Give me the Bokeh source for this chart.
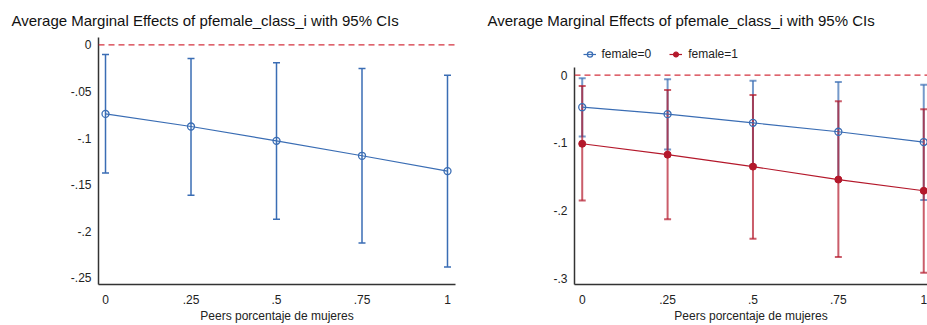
from bokeh.plotting import figure
from bokeh.models import (ColumnDataSource, Range1d, FixedTicker, Span, Whisker,
                          TeeHead, Legend, LegendItem)
from bokeh.layouts import row
from bokeh.embed import file_html
from bokeh.resources import INLINE

# ---------------- data ----------------
x_vals = [0, 0.25, 0.5, 0.75, 1]
x_tick_labels = ["0", ".25", ".5", ".75", "1"]

left_ame = [-0.0741, -0.0876, -0.1030, -0.1190, -0.1354]
left_lo = [-0.1375, -0.1614, -0.1870, -0.2126, -0.2383]
left_hi = [-0.0104, -0.0146, -0.0192, -0.0253, -0.0328]
left_y_ticks = [0, -0.05, -0.1, -0.15, -0.2, -0.25]
left_y_labels = ["0", "-.05", "-.1", "-.15", "-.2", "-.25"]

f0_ame = [-0.0475, -0.0578, -0.0706, -0.0838, -0.0990]
f0_lo = [-0.0907, -0.1100, -0.1329, -0.1565, -0.1847]
f0_hi = [-0.0049, -0.0063, -0.0083, -0.0103, -0.0142]
f1_ame = [-0.1015, -0.1176, -0.1353, -0.1544, -0.1710]
f1_lo = [-0.1853, -0.2130, -0.2420, -0.2690, -0.2920]
f1_hi = [-0.0162, -0.0220, -0.0294, -0.0387, -0.0505]
right_y_ticks = [0, -0.1, -0.2, -0.3]
right_y_labels = ["0", "-.1", "-.2", "-.3"]

title_text = "Average Marginal Effects of pfemale_class_i with 95% CIs"
x_title = "Peers porcentaje de mujeres"
legend_labels = ["female=0", "female=1"]

BLUE = "#3a6db4"
RED = "#b4182b"
ZERO_RED = "#d3323f"
FONT = "Liberation Sans"


def style(p, yt, yl):
    p.frame_align = False
    p.outline_line_color = None
    p.xgrid.visible = False
    p.ygrid.visible = False
    p.title.text_font = FONT
    p.title.text_font_size = "15px"
    p.title.text_font_style = "normal"
    p.title.text_color = "#111111"
    p.title.align = "left"
    p.title.offset = -87
    p.title.standoff = 18
    p.xaxis.ticker = FixedTicker(ticks=x_vals)
    p.xaxis.major_label_overrides = {float(v): s for v, s in zip(x_vals, x_tick_labels)}
    p.yaxis.ticker = FixedTicker(ticks=yt)
    p.yaxis.major_label_overrides = {float(v): s for v, s in zip(yt, yl)}
    for ax in (p.xaxis, p.yaxis):
        ax.axis_line_color = "#333333"
        ax.axis_line_width = 1.5
        ax.major_tick_line_color = None
        ax.minor_tick_line_color = None
        ax.major_tick_out = 0
        ax.major_tick_in = 0
        ax.minor_tick_out = 0
        ax.minor_tick_in = 0
        ax.major_label_text_font = FONT
        ax.major_label_text_font_size = "12px"
        ax.major_label_text_color = "#222222"
    p.yaxis.major_label_standoff = 7
    p.xaxis.major_label_standoff = 10
    p.xaxis.axis_label = x_title
    p.xaxis.axis_label_text_font = FONT
    p.xaxis.axis_label_text_font_size = "12px"
    p.xaxis.axis_label_text_font_style = "normal"
    p.xaxis.axis_label_text_color = "#222222"
    p.xaxis.axis_label_standoff = 2
    p.add_layout(Span(location=0, dimension="width", line_color=ZERO_RED,
                      line_width=1.2, line_dash="6 4"))


def add_ci(p, x, lo, hi, color, alpha, width):
    src = ColumnDataSource(dict(x=x, lo=lo, hi=hi))
    w = Whisker(source=src, base="x", lower="lo", upper="hi", dimension="height",
                line_color=color, line_alpha=alpha, line_width=width,
                upper_head=TeeHead(size=7, line_color=color, line_alpha=alpha, line_width=width),
                lower_head=TeeHead(size=7, line_color=color, line_alpha=alpha, line_width=width))
    p.add_layout(w)


# ---------------- left panel ----------------
p1 = figure(width=460, height=325, output_backend="svg", toolbar_location=None,
            x_range=Range1d(-0.0205, 1.0234), y_range=Range1d(-0.257, 0.0078),
            title=title_text, min_border_left=98, min_border_right=5,
            min_border_top=37, min_border_bottom=40)
style(p1, left_y_ticks, left_y_labels)
add_ci(p1, x_vals, left_lo, left_hi, BLUE, 1.0, 1.5)
p1.line(x_vals, left_ame, line_color=BLUE, line_width=1.2)
p1.scatter(x_vals, left_ame, marker="circle", size=7, fill_color=None,
           line_color=BLUE, line_width=1.3)

# ---------------- right panel ----------------
# frame extends up to the legend row; the y axis line is bounded to the data area
p2 = figure(width=467, height=325, output_backend="svg", toolbar_location=None,
            x_range=Range1d(-0.0226, 1.011), y_range=Range1d(-0.3095, 0.0555),
            title=title_text, min_border_left=114, min_border_right=0,
            min_border_top=37, min_border_bottom=39)
style(p2, right_y_ticks, right_y_labels)
p2.yaxis.bounds = (-0.3095, 0.0118)
add_ci(p2, x_vals, f0_lo, f0_hi, BLUE, 0.7, 2)
add_ci(p2, x_vals, f1_lo, f1_hi, RED, 0.7, 2)
l0 = p2.line(x_vals, f0_ame, line_color=BLUE, line_width=1.2)
s0 = p2.scatter(x_vals, f0_ame, marker="circle", size=7, fill_color=None,
                line_color=BLUE, line_width=1.3)
l1 = p2.line(x_vals, f1_ame, line_color=RED, line_width=1.2)
s1 = p2.scatter(x_vals, f1_ame, marker="circle", size=7, fill_color=RED,
                line_color=RED, line_width=1)

legend = Legend(items=[LegendItem(label=legend_labels[0], renderers=[l0, s0]),
                       LegendItem(label=legend_labels[1], renderers=[l1, s1])],
                orientation="horizontal", location=(8.5, 222.7),
                label_text_font=FONT, label_text_font_size="12px",
                label_text_color="#222222", label_standoff=6, spacing=18,
                glyph_width=13, glyph_height=14, label_height=14, padding=2,
                margin=0, border_line_color=None, background_fill_alpha=0)
p2.add_layout(legend)

layout = row(p1, p2)
open("out.html", "w").write(file_html(layout, INLINE))
